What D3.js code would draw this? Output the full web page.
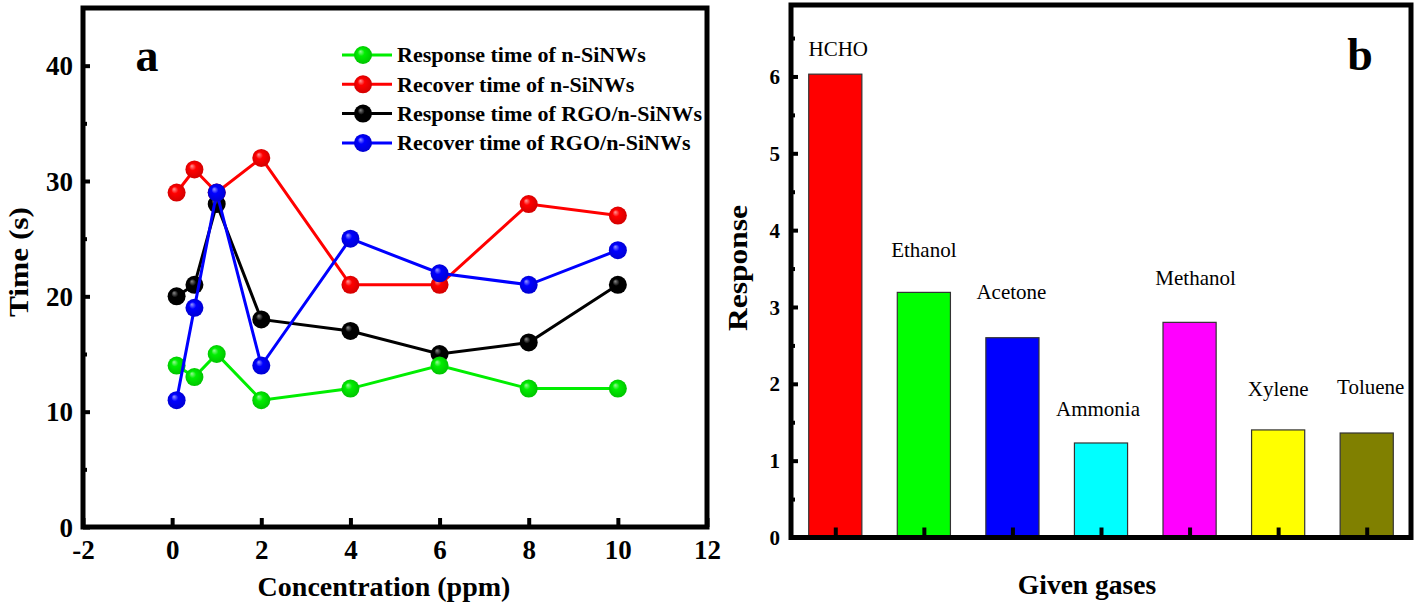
<!DOCTYPE html>
<html>
<head>
<meta charset="utf-8">
<script src="https://cdn.jsdelivr.net/npm/d3@7"></script>
<style>
  html, body { margin: 0; padding: 0; background: #fff; }
  svg { display: block; }
  text { font-family: "Liberation Serif", "Tinos", "DejaVu Serif", serif; fill: #000; }
</style>
</head>
<body>
<svg id="chart" width="1418" height="606"></svg>
<script>
// ---------- Panel a data ----------
const concentrations = [0.1, 0.5, 1, 2, 4, 6, 8, 10];
const seriesNames = [
  "Response time of n-SiNWs",
  "Recover time of n-SiNWs",
  "Response time of RGO/n-SiNWs",
  "Recover time of RGO/n-SiNWs"
];
const respN   = [14, 13, 15, 11, 12, 14, 12, 12];
const recovN  = [29, 31, 29, 32, 21, 21, 28, 27];
const respRGO = [20, 21, 28, 18, 17, 15, 16, 21];
const recovRGO= [11, 19, 29, 14, 25, 22, 21, 24];
const seriesColors = ["#00ee00", "#ff0000", "#000000", "#0000ff"];
const xTicksA = [-2, 0, 2, 4, 6, 8, 10, 12];
const yTicksA = [0, 10, 20, 30, 40];
const yMinorA = [5, 15, 25, 35];

// ---------- Panel b data ----------
const gases = ["HCHO", "Ethanol", "Acetone", "Ammonia", "Methanol", "Xylene", "Toluene"];
const responses = [6.03, 3.19, 2.60, 1.23, 2.80, 1.40, 1.36];
const barColors = ["#ff0000", "#00ff00", "#0000ff", "#00ffff", "#ff00ff", "#ffff00", "#808000"];
const yTicksB = [0, 1, 2, 3, 4, 5, 6];
const yMinorB = [0.5, 1.5, 2.5, 3.5, 4.5, 5.5, 6.5];
// label layout (px lift above bar top, px horizontal shift)
const labelLift  = [18, 35, 39, 27, 37, 34, 39];
const labelShift = [3, 0, -1, -3, 6, 0, 4];

const fmt = d => (d < 0 ? "-" + Math.abs(d) : String(d));

const svg = d3.select("#chart");
const defs = svg.append("defs");

// ================= PANEL A =================
const A = {left: 83, right: 707, top: 8, bottom: 527};
const xA = d3.scaleLinear().domain([-2, 12]).range([A.left, A.right]);
const yA = d3.scaleLinear().domain([0, 45]).range([A.bottom, A.top]);

const gA = svg.append("g");

// gradients for spheres
seriesColors.forEach((c, i) => {
  const g = defs.append("radialGradient").attr("id", "sph" + i)
    .attr("cx", "50%").attr("cy", "50%").attr("r", "55%")
    .attr("fx", "35%").attr("fy", "30%");
  const base = d3.color(c);
  const light = d3.interpolateRgb(c, "#ffffff")(i === 2 ? 0.55 : 0.6);
  g.append("stop").attr("offset", "0%").attr("stop-color", light);
  g.append("stop").attr("offset", "35%").attr("stop-color", c);
  g.append("stop").attr("offset", "100%").attr("stop-color", base.darker(0.6).formatHex());
});

function styleTicks(g, size) {
  g.select(".domain").remove();
  g.selectAll("line").attr("stroke", "#000").attr("stroke-width", 4);
  g.selectAll("text").attr("font-size", size).attr("font-weight", "bold")
    .attr("font-family", "Liberation Serif");
}

// y axis major
gA.append("g").attr("transform", `translate(${A.left},0)`)
  .call(d3.axisLeft(yA).tickValues(yTicksA).tickSize(-7).tickPadding(10).tickFormat(fmt))
  .call(g => styleTicks(g, 27))
  .call(g => g.selectAll("text").attr("dy", "0.34em"));
// y axis minor
gA.append("g").attr("transform", `translate(${A.left},0)`)
  .call(d3.axisLeft(yA).tickValues(yMinorA).tickSize(-4).tickFormat(""))
  .call(g => styleTicks(g, 27));
// x axis
gA.append("g").attr("transform", `translate(0,${A.bottom})`)
  .call(d3.axisBottom(xA).tickValues(xTicksA).tickSize(-9).tickPadding(13).tickFormat(fmt))
  .call(g => styleTicks(g, 27))
  .call(g => g.selectAll("text").attr("dy", "0.71em"));

// frame
gA.append("rect").attr("x", A.left).attr("y", A.top)
  .attr("width", A.right - A.left).attr("height", A.bottom - A.top)
  .attr("fill", "none").attr("stroke", "#000").attr("stroke-width", 5);

// series
const seriesData = [respN, recovN, respRGO, recovRGO];
const drawOrder = [1, 2, 0, 3];
const line = d3.line().x(d => xA(d.x)).y(d => yA(d.y));
drawOrder.forEach(i => {
  const pts = concentrations.map((x, k) => ({x, y: seriesData[i][k]}));
  const g = gA.append("g");
  g.append("path").datum(pts).attr("d", line)
    .attr("fill", "none").attr("stroke", seriesColors[i]).attr("stroke-width", 3);
  g.selectAll("circle").data(pts).join("circle")
    .attr("cx", d => xA(d.x)).attr("cy", d => yA(d.y)).attr("r", 9)
    .attr("fill", `url(#sph${i})`);
});

// legend
const legend = gA.append("g");
seriesNames.forEach((name, i) => {
  const y = 55 + i * 29.3;
  legend.append("line").attr("x1", 342).attr("x2", 392).attr("y1", y).attr("y2", y)
    .attr("stroke", seriesColors[i]).attr("stroke-width", 3);
  legend.append("circle").attr("cx", 363).attr("cy", y).attr("r", 9)
    .attr("fill", `url(#sph${i})`);
  legend.append("text").attr("x", 397).attr("y", y).attr("dy", "0.33em")
    .attr("font-size", 22).attr("font-weight", "bold").text(name);
});

// panel letter
gA.append("text").attr("x", 147).attr("y", 71).attr("text-anchor", "middle")
  .attr("font-size", 46).attr("font-weight", "bold").text("a");

// axis titles
gA.append("text").attr("x", 384).attr("y", 596).attr("text-anchor", "middle")
  .attr("font-size", 28).attr("font-weight", "bold").text("Concentration (ppm)");
gA.append("text").attr("transform", "translate(28,262) rotate(-90)").attr("text-anchor", "middle")
  .attr("font-size", 28).attr("font-weight", "bold")
  .attr("textLength", 110).attr("lengthAdjust", "spacingAndGlyphs").text("Time (s)");

// ================= PANEL B =================
const B = {left: 791, right: 1411, top: 5, bottom: 537.5};
const xB = d3.scaleBand().domain(gases).range([B.left, B.right]).paddingInner(0.4).paddingOuter(0.2);
const yB = d3.scaleLinear().domain([0, 6.93]).range([B.bottom, B.top]);
const gB = svg.append("g");

// bars
gB.selectAll("rect.bar").data(gases).join("rect").attr("class", "bar")
  .attr("x", d => xB(d)).attr("width", xB.bandwidth())
  .attr("y", (d, i) => yB(responses[i]))
  .attr("height", (d, i) => yB(0) - yB(responses[i]))
  .attr("fill", (d, i) => barColors[i])
  .attr("stroke", "#333").attr("stroke-width", 1.2);

// bar labels
gB.selectAll("text.lbl").data(gases).join("text").attr("class", "lbl")
  .attr("x", (d, i) => xB(d) + xB.bandwidth() / 2 + labelShift[i])
  .attr("y", (d, i) => yB(responses[i]) - labelLift[i])
  .attr("text-anchor", "middle").attr("font-size", 21).text(d => d);

// y axis
gB.append("g").attr("transform", `translate(${B.left},0)`)
  .call(d3.axisLeft(yB).tickValues(yTicksB).tickSize(-7).tickPadding(11).tickFormat(fmt))
  .call(g => styleTicks(g, 21))
  .call(g => g.selectAll("text").attr("dy", "0.34em"));
gB.append("g").attr("transform", `translate(${B.left},0)`)
  .call(d3.axisLeft(yB).tickValues(yMinorB).tickSize(-4).tickFormat(""))
  .call(g => styleTicks(g, 21));
// x axis ticks (no labels), at bar centres
const xCentres = d3.scalePoint().domain(gases)
  .range([xB(gases[0]) + xB.bandwidth() / 2, xB(gases[gases.length - 1]) + xB.bandwidth() / 2]);
gB.append("g").attr("transform", `translate(0,${B.bottom})`)
  .call(d3.axisBottom(xCentres).tickSize(-10).tickFormat(""))
  .call(g => styleTicks(g, 21));

// frame
gB.append("rect").attr("x", B.left).attr("y", B.top)
  .attr("width", B.right - B.left).attr("height", B.bottom - B.top)
  .attr("fill", "none").attr("stroke", "#000").attr("stroke-width", 5);

gB.append("text").attr("x", 1360).attr("y", 70).attr("text-anchor", "middle")
  .attr("font-size", 46).attr("font-weight", "bold").text("b");

gB.append("text").attr("x", 1087).attr("y", 594).attr("text-anchor", "middle")
  .attr("font-size", 27.5).attr("font-weight", "bold").text("Given gases");
gB.append("text").attr("transform", "translate(747,268) rotate(-90)").attr("text-anchor", "middle")
  .attr("font-size", 28).attr("font-weight", "bold")
  .attr("textLength", 126).attr("lengthAdjust", "spacingAndGlyphs").text("Response");
</script>
</body>
</html>
